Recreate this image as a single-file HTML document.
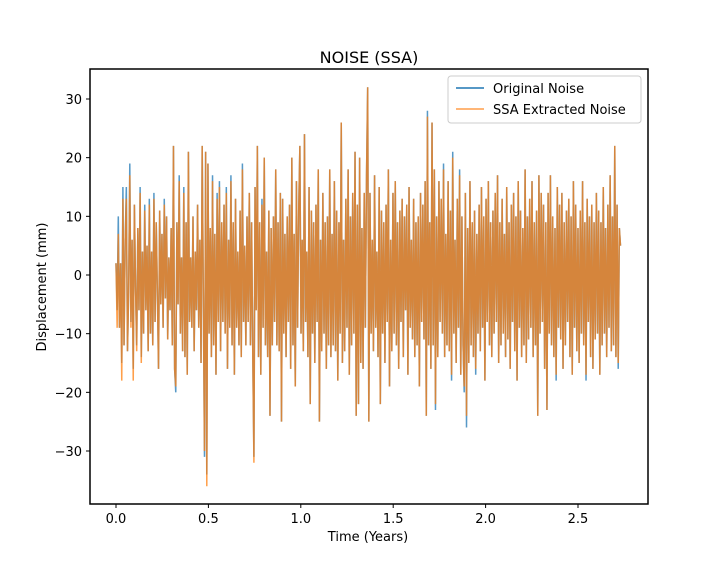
<!DOCTYPE html>
<html><head><meta charset="utf-8"><style>
body{margin:0;background:#fff;font-family:"Liberation Sans","DejaVu Sans",sans-serif;}
svg text{font-family:"DejaVu Sans","Liberation Sans",sans-serif;}
</style></head><body>
<svg width="720" height="576">
<rect width="720" height="576" fill="#fff"/>
<text x="369" y="63" font-size="16" text-anchor="middle">NOISE (SSA)</text>
<g id="plot"></g>
<g id="axes"></g>
<rect x="90" y="69" width="558" height="435" fill="none" stroke="#000" stroke-width="1.5"/>
<g>
<rect x="448" y="76" width="193" height="47" rx="3" fill="#fff" fill-opacity="0.8" stroke="#ccc"/>
<line x1="456" y1="88" x2="484" y2="88" stroke="#1f77b4" stroke-width="1.5"/>
<text x="493" y="93" font-size="13">Original Noise</text>
<line x1="456" y1="109" x2="484" y2="109" stroke="#ff7f0e" stroke-opacity="0.75" stroke-width="1.5"/>
<text x="493" y="114" font-size="13">SSA Extracted Noise</text>
</g>
<text x="368" y="541" font-size="13" text-anchor="middle">Time (Years)</text>
<text transform="translate(46,287) rotate(-90)" font-size="13" text-anchor="middle">Displacement (mm)</text>
</svg>
<script>
const xTicks=[0,0.5,1.0,1.5,2.0,2.5];
const xTickLabels=["0.0","0.5","1.0","1.5","2.0","2.5"];
const yTicks=[-30,-20,-10,0,10,20,30];
const yTickLabels=["−30","−20","−10","0","10","20","30"];
const tStart=0.0, tEnd=2.73;
const original=[
2,-6,10,-9,2,-15,15,-12,6,15,-13,-3,19,-8,6,-16,12,-2,-12,8,
-6,15,-14,4,-10,12,-6,5,-13,13,-10,4,-12,14,-8,9,-3,-16,11,-5,
7,-9,13,-4,10,-11,3,-6,8,-12,22,-16,-20,9,-5,17,-10,3,-13,15,
-14,9,-17,21,-8,3,-9,10,-13,4,-6,12,-9,6,-15,22,-4,-31,21,-34,
19,-10,8,-14,17,-12,7,-17,14,-8,16,-13,9,-8,12,-10,15,-16,6,-9,
17,-12,9,-17,13,-9,4,-12,11,-14,19,-8,5,-12,10,-8,14,-12,9,-13,
-31,15,-6,22,-14,9,-17,13,-9,20,-12,4,-14,11,-24,8,-12,10,-8,18,
-12,9,-13,14,-25,13,-10,7,-14,10,-8,12,-16,20,-12,7,-19,16,-9,11,
22,-10,6,-13,24,-8,4,-14,15,-22,11,-10,9,-15,12,-8,18,-25,6,-13,
14,-10,9,-16,10,-12,18,-14,7,-12,16,-13,11,-18,9,-10,26,-15,6,-13,
13,-9,18,-17,10,-12,14,-10,21,-24,12,-22,20,-15,8,-16,14,-9,17,32,
-25,14,-10,6,-13,17,-9,4,-14,15,-22,11,-10,9,-15,12,-8,18,-19,6,
-13,14,-10,16,-12,9,-16,11,-8,13,-14,10,-6,12,-17,15,-9,6,-11,13,
-14,9,-12,10,-19,14,-8,12,-11,16,-24,28,-12,9,-16,26,-12,18,-23,10,
-14,16,-8,13,-10,19,-14,7,-12,16,-13,11,-18,21,-10,6,-15,13,-9,18,
-17,10,-12,-20,14,-26,8,-15,16,-12,9,-14,11,-17,7,-10,12,-13,15,-9,
10,-18,13,-8,16,-12,9,-14,11,-10,14,-8,17,-15,9,-12,13,-10,7,-14,
15,-11,9,-16,12,-8,14,-13,10,-18,16,-9,11,-14,8,-12,18,-15,10,-11,
13,-9,16,-14,9,-12,11,-24,17,-10,14,-8,12,-16,9,-23,14,-10,17,-12,
10,-14,8,-18,15,-9,12,-11,14,-16,9,-12,11,-8,13,-14,10,-17,16,-9,
12,-13,8,-15,11,-10,16,-12,9,-18,13,-8,10,-14,12,-16,9,-11,14,-10,
11,-17,9,-12,15,-10,8,-14,12,-9,17,-13,10,-12,22,-14,12,-16,8,5];
const ssa=[
2,-9,7,-9,2,-18,13,-12,6,13,-13,-3,17,-9,6,-18,12,-2,-13,8,
-6,14,-15,4,-10,11,-6,5,-13,12,-10,4,-12,13,-8,9,-3,-16,11,-5,
7,-9,12,-4,10,-11,3,-6,8,-12,22,-16,-19,9,-5,16,-10,3,-13,14,
-14,9,-17,21,-8,3,-9,10,-13,4,-6,12,-9,6,-15,22,-4,-30,21,-36,
19,-10,8,-14,16,-12,7,-17,13,-8,15,-13,9,-8,12,-10,14,-16,6,-9,
16,-12,9,-17,13,-9,4,-12,11,-14,18,-8,5,-12,10,-8,14,-12,9,-13,
-32,15,-6,22,-14,9,-17,12,-9,20,-12,4,-14,11,-24,8,-12,10,-8,18,
-12,9,-13,14,-25,13,-10,7,-14,10,-8,12,-16,20,-12,7,-19,16,-9,11,
22,-10,6,-13,24,-8,4,-14,15,-22,11,-10,9,-15,12,-8,18,-25,6,-13,
14,-10,9,-16,10,-12,18,-14,7,-12,16,-13,11,-18,9,-10,26,-15,6,-13,
13,-9,18,-17,10,-12,14,-10,21,-24,12,-22,20,-15,8,-16,14,-9,17,32,
-25,14,-10,6,-13,17,-9,4,-14,15,-22,11,-10,9,-15,12,-8,18,-19,6,
-13,14,-10,16,-12,9,-16,11,-8,13,-14,10,-6,12,-17,15,-9,6,-11,13,
-14,9,-12,10,-19,14,-8,12,-11,16,-24,27,-12,9,-16,26,-12,18,-22,10,
-14,16,-8,13,-10,18,-14,7,-12,16,-13,11,-17,20,-10,6,-15,13,-9,17,
-17,10,-12,-19,14,-24,8,-15,16,-12,9,-14,11,-16,7,-10,12,-13,15,-9,
10,-18,13,-8,16,-12,9,-14,11,-10,14,-8,17,-15,9,-12,13,-10,7,-14,
15,-11,9,-16,12,-8,14,-13,10,-18,16,-9,11,-14,8,-12,18,-15,10,-11,
13,-9,16,-14,9,-12,11,-24,17,-10,14,-8,12,-16,9,-23,14,-10,17,-12,
10,-14,8,-17,15,-9,12,-11,14,-16,9,-12,11,-8,13,-14,10,-17,16,-9,
12,-13,8,-15,11,-10,16,-12,9,-17,13,-8,10,-14,12,-16,9,-11,14,-10,
11,-17,9,-12,15,-10,8,-14,12,-9,17,-13,10,-12,22,-14,12,-15,8,5];
const X0=116, XS=184.8, Y0=275, YS=5.867;
const xs=t=>X0+t*XS, ys=v=>Y0-v*YS;
const NS="http://www.w3.org/2000/svg";
const plot=document.getElementById('plot'), axes=document.getElementById('axes');
function series(arr,color,op,name){
  const p=document.createElementNS(NS,'polyline');
  const n=arr.length;
  p.setAttribute('points',arr.map((v,i)=>xs(tStart+i*(tEnd-tStart)/(n-1)).toFixed(2)+','+ys(v).toFixed(2)).join(' '));
  p.setAttribute('fill','none');p.setAttribute('stroke',color);p.setAttribute('stroke-opacity',op);p.setAttribute('stroke-width','1.5');
  
  
  plot.appendChild(p);
}
series(original,'#1f77b4','0.75','original-noise-line');
series(ssa,'#ff7f0e','0.75','ssa-noise-line');
xTicks.forEach((t,i)=>{
  const l=document.createElementNS(NS,'line');
  l.setAttribute('x1',xs(t));l.setAttribute('x2',xs(t));l.setAttribute('y1',504);l.setAttribute('y2',508);l.setAttribute('stroke','#000');
  
  
  axes.appendChild(l);
  const tx=document.createElementNS(NS,'text');
  tx.setAttribute('x',xs(t));tx.setAttribute('y',523);tx.setAttribute('font-size','13');tx.setAttribute('text-anchor','middle');
  tx.textContent=xTickLabels[i];
  
  
  axes.appendChild(tx);
});
yTicks.forEach((v,i)=>{
  const l=document.createElementNS(NS,'line');
  l.setAttribute('x1',86);l.setAttribute('x2',90);l.setAttribute('y1',ys(v));l.setAttribute('y2',ys(v));l.setAttribute('stroke','#000');
  
  
  axes.appendChild(l);
  const tx=document.createElementNS(NS,'text');
  tx.setAttribute('x',82);tx.setAttribute('y',ys(v)+5);tx.setAttribute('font-size','13');tx.setAttribute('text-anchor','end');
  tx.textContent=yTickLabels[i];
  
  
  axes.appendChild(tx);
});
</script>
</body></html>
